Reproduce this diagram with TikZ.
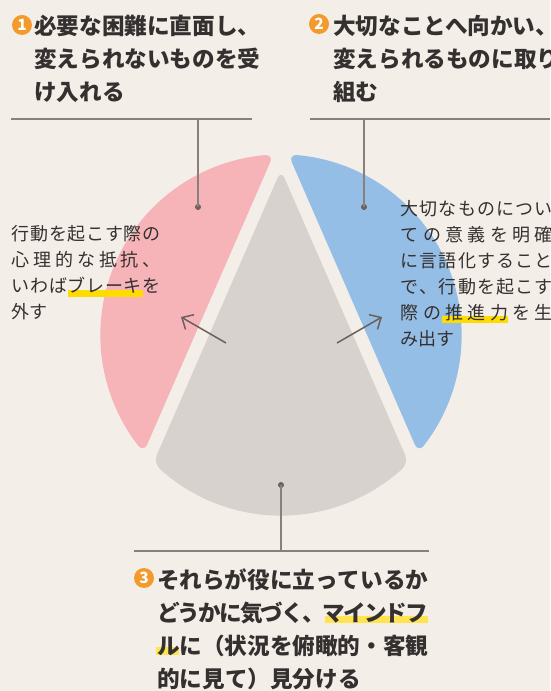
\documentclass[tikz,border=0pt]{standalone}
\usepackage{fontspec}
\newfontfamily\jpfont{Noto Sans CJK JP}
\usetikzlibrary{arrows.meta,calc}

\definecolor{bgc}{HTML}{F3EFE8}
\definecolor{pinkc}{HTML}{F6B4B9}
\definecolor{bluec}{HTML}{94BEE6}
\definecolor{grayc}{HTML}{D8D2CE}
\definecolor{accent}{HTML}{F39A2D}
\definecolor{ink}{HTML}{353030}
\definecolor{rulec}{HTML}{8A807B}
\definecolor{dotc}{HTML}{6B605C}
\definecolor{hlstrong}{HTML}{FFDC00}
\definecolor{hlsoft}{HTML}{FFE34F}

% one line, characters spread evenly over a given width
\def\sploop#1{\ifx\relax#1\else#1\expandafter\spnext\fi}
\def\spnext#1{\ifx\relax#1\else\hskip 0pt plus 1fil minus 1fil #1\expandafter\spnext\fi}
\newcommand\spaced[2]{\hbox to #1{\sploop#2\relax}}

\begin{document}
\begin{tikzpicture}[x=1pt,y=1pt,
    headtext/.style={anchor=base west,inner sep=0pt,text=ink,font=\jpfont\bfseries\fontsize{22.6}{33}\selectfont},
    bodytext/.style={anchor=base west,inner sep=0pt,text=ink,font=\jpfont\fontsize{18}{26}\selectfont},
    badge/.style={circle,fill=accent,text=white,inner sep=0pt,minimum size=20pt,font=\jpfont\bfseries\fontsize{15.5}{15.5}\selectfont},
    dotmark/.style={circle,fill=dotc,inner sep=0pt,minimum size=6pt},
    rule/.style={draw=rulec,line width=1.6pt},
    pointer/.style={draw=dotc,line width=1.5pt,-{Straight Barb[length=9pt,width=17pt]}}]
    \useasboundingbox (0,0) rectangle (550,691);
    \fill[bgc] (0,0) rectangle (550,691);
    \clip (0,0) rectangle (550,691);

    % the three parts of the circle
    \coordinate (C) at (281,356);
    \fill[pinkc,rounded corners=9pt] ($(C)+(92.3:181)$)
      \foreach \i in {1,...,18} { -- ($(C)+({92.3+\i*128.3/18}:181)$) } -- cycle;
    \fill[bluec,rounded corners=9pt] ($(C)+(-40.6:181)$)
      \foreach \i in {1,...,18} { -- ($(C)+({-40.6+\i*128.3/18}:181)$) } -- cycle;
    \fill[grayc,rounded corners=9pt] (281,521) -- ($(C)+(225.1:181)$)
      \foreach \i in {1,...,12} { -- ($(C)+({225.1+\i*89.8/12}:181)$) } -- cycle;

    % markers under the key words
    \fill[hlstrong] (68,394) rectangle (143,401);
    \fill[hlstrong] (442,368) rectangle (508,375);
    \fill[hlsoft] (325,68) rectangle (428,75);
    \fill[hlsoft] (156,36) rectangle (179,44);

    % headings
    \node[badge] (n1) at (22,666) {1};
    \node[headtext] (h1) at (34,656) {\vtop{\hbox{必要な困難に直面し、}\hbox{変えられないものを受}\hbox{け入れる}}};
    \node[badge] (n2) at (319,667) {2};
    \node[headtext] (h2) at (333,656) {\vtop{\hbox{大切なことへ向かい、}\hbox{変えられるものに取り}\hbox{組む}}};
    \node[badge] (n3) at (144,113) {3};
    \node[headtext] (h3) at (157,102) {\vtop{\spaced{271pt}{それらが役に立っているか}\spaced{271pt}{どうかに気づく、マインドフ}\spaced{271pt}{ルに（状況を俯瞰的・客観}\hbox{的に見て）見分ける}}};

    % side notes
    \node[bodytext] (t1) at (11.5,450) {\vtop{\spaced{149pt}{行動を起こす際の}\spaced{149pt}{心理的な抵抗、}\spaced{149pt}{いわばブレーキを}\hbox{外す}}};
    \node[bodytext] (t2) at (400.5,475) {\vtop{\spaced{152pt}{大切なものについ}\spaced{152pt}{ての意義を明確}\spaced{152pt}{に言語化すること}\spaced{152pt}{で、行動を起こす}\spaced{152pt}{際の推進力を生}\hbox{み出す}}};

    % leader lines
    \node[dotmark] (d1) at (198,484) {};
    \node[dotmark] (d2) at (364,484) {};
    \node[dotmark] (d3) at (281,206) {};
    \coordinate (r1a) at (11,572);
    \coordinate (r1b) at (252,572);
    \coordinate (r1m) at (198,572);
    \coordinate (r2a) at (310,572);
    \coordinate (r2b) at (550,572);
    \coordinate (r2m) at (364,572);
    \coordinate (r3a) at (134,140);
    \coordinate (r3b) at (429,140);
    \coordinate (r3m) at (281,140);
    \draw[rule] (r1a) -- (r1b);
    \draw[rule] (r1m) -- (d1.center);
    \draw[rule] (r2a) -- (r2b);
    \draw[rule] (r2m) -- (d2.center);
    \draw[rule] (r3a) -- (r3b);
    \draw[rule] (r3m) -- (d3.center);

    % arrows out of the grey part
    \coordinate (p1s) at (226,348);
    \coordinate (p1e) at (181,374);
    \coordinate (p2s) at (337,348);
    \coordinate (p2e) at (382,374);
    \draw[pointer] (p1s) -- (p1e);
    \draw[pointer] (p2s) -- (p2e);
\end{tikzpicture}
\end{document}
